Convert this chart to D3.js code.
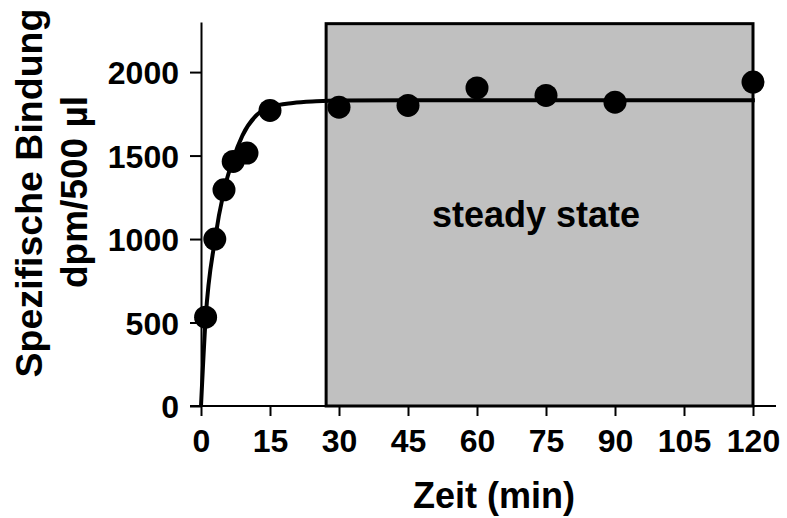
<!DOCTYPE html>
<html><head><meta charset="utf-8">
<script src="https://cdn.jsdelivr.net/npm/d3@7"></script>
<style>
html,body{margin:0;padding:0;background:#fff;}
text{font-family:"Liberation Sans",Arial,sans-serif;font-weight:bold;fill:#000;}
</style></head>
<body><svg id="c" width="787" height="518"></svg>
<script>
// measured data points
const timeMin = [1, 3, 5, 7, 10, 15, 30, 45, 60, 75, 90, 120];
const binding = [532, 1000, 1295, 1465, 1515, 1770, 1790, 1800, 1905, 1860, 1820, 1940];
// fitted curve
const fitTime = [0, 1, 3, 5, 7, 9, 12, 15, 20, 25, 30, 45, 120.4];
const fitBinding = [0, 520, 990, 1290, 1480, 1620, 1740, 1790, 1815, 1825, 1830, 1831, 1831];
// steady state region
const steadyStart = 27.2, steadyEnd = 120, steadyTop = 2290;
const xTicks = [0, 15, 30, 45, 60, 75, 90, 105, 120];
const yTicks = [0, 500, 1000, 1500, 2000];

const svg = d3.select("#c");
const x = d3.scaleLinear().domain([0, 125]).range([201, 776]);
const y = d3.scaleLinear().domain([0, 2300]).range([406, 22]);

// steady state box
svg.append("rect")
  .attr("x", x(steadyStart)).attr("y", y(steadyTop))
  .attr("width", x(steadyEnd) - x(steadyStart))
  .attr("height", y(0) - y(steadyTop))
  .attr("fill", "#c0c0c0").attr("stroke", "#000").attr("stroke-width", 3);

svg.append("text").attr("x", 536).attr("y", 227).attr("text-anchor", "middle")
  .style("font-size", "36px").text("steady state");

// axes
const xAxis = svg.append("g").attr("transform", `translate(0,${y(0)})`)
  .call(d3.axisBottom(x).tickValues(xTicks).tickFormat(d3.format("d")).tickSize(10).tickPadding(13).tickSizeOuter(0));
const yAxis = svg.append("g").attr("transform", `translate(${x(0)},0)`)
  .call(d3.axisLeft(y).tickValues(yTicks).tickFormat(d3.format("d")).tickSize(11).tickPadding(11).tickSizeOuter(0));
[xAxis, yAxis].forEach(a => {
  a.select(".domain").attr("stroke", "#000").attr("stroke-width", 2);
  a.selectAll(".tick line").attr("stroke", "#000").attr("stroke-width", 2);
  a.selectAll(".tick text").style("font-size", "32px").attr("fill", "#000")
   .style("font-family", "Liberation Sans, Arial, sans-serif").style("font-weight", "bold");
});
xAxis.select(".domain").attr("d", `M${x(0) - 11},0H${x(125)}`);
yAxis.selectAll(".tick text").attr("dy", "0.36em");
xAxis.selectAll(".tick text").attr("dy", "0.71em");

// fitted curve
const pts = fitTime.map((t, i) => [t, fitBinding[i]]);
svg.append("path").datum(pts)
  .attr("d", d3.line().x(d => x(d[0])).y(d => y(d[1])).curve(d3.curveMonotoneX))
  .attr("fill", "none").attr("stroke", "#000").attr("stroke-width", 4);

// points
svg.selectAll("circle.pt").data(timeMin).enter().append("circle")
  .attr("class", "pt")
  .attr("cx", d => x(d)).attr("cy", (d, i) => y(binding[i])).attr("r", 11.5)
  .attr("fill", "#000");

// titles
svg.append("text").attr("x", 494).attr("y", 508).attr("text-anchor", "middle")
  .style("font-size", "36px").text("Zeit (min)");
svg.append("text").attr("transform", "translate(42,193) rotate(-90)")
  .attr("text-anchor", "middle").style("font-size", "37.5px").text("Spezifische Bindung");
svg.append("text").attr("transform", "translate(87,192) rotate(-90)")
  .attr("text-anchor", "middle").style("font-size", "37px").text("dpm/500 µl");
</script></body></html>
